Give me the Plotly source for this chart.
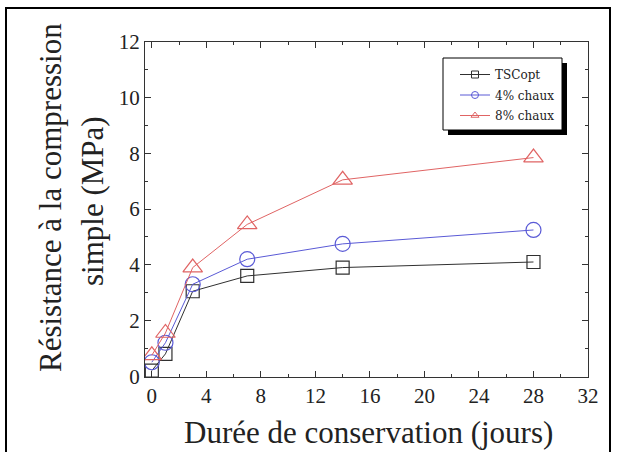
import plotly.graph_objects as go

# Curing time (days) and unconfined compressive strength (MPa)
days = [0, 1, 3, 7, 14, 28]
tscopt = [0.2, 0.8, 3.05, 3.6, 3.9, 4.1]
chaux4 = [0.5, 1.2, 3.3, 4.2, 4.75, 5.25]
chaux8 = [0.75, 1.55, 3.9, 5.45, 7.05, 7.85]

series_names = ["TSCopt", "4% chaux", "8% chaux"]
series_values = [tscopt, chaux4, chaux8]
colors = ["#303030", "#5a5ad6", "#e06464"]
symbols = ["square-open", "circle-open", "triangle-up-open"]
sizes = [13, 15, 17]

FONT = "Liberation Serif"

# plot-area pixel geometry (617 x 452 page)
L, R, T, B = 145, 29, 42, 75
PW, PH = 617 - L - R, 452 - T - B


def px(x):
    return (x - L) / PW


def py(y):
    return (452 - B - y) / PH


fig = go.Figure()
for i, (name, vals) in enumerate(zip(series_names, series_values)):
    fig.add_trace(go.Scatter(
        x=days, y=vals, name=name, mode="lines+markers",
        showlegend=False,
        line=dict(color=colors[i], width=1),
        marker=dict(symbol=symbols[i], size=sizes[i], color=colors[i],
                    line=dict(width=1.2, color=colors[i])),
    ))

# small-symbol legend keys
for i, name in enumerate(series_names):
    fig.add_trace(go.Scatter(
        x=[None], y=[None], name=name, mode="lines+markers",
        legendgroup=f"g{i}",
        line=dict(color=colors[i], width=1),
        marker=dict(symbol=symbols[i], size=7, color=colors[i],
                    line=dict(width=1, color=colors[i])),
    ))

axis_common = dict(
    showline=True, linecolor="#333", linewidth=1.2, mirror="allticks",
    ticks="inside", ticklen=6, tickcolor="#333", tickwidth=1,
    showgrid=False, zeroline=False,
    tickfont=dict(family=FONT, size=21, color="#222"),
)

fig.update_xaxes(range=[-0.5, 32], tickvals=[0, 4, 8, 12, 16, 20, 24, 28, 32],
                 minor=dict(tickvals=[2, 6, 10, 14, 18, 22, 26, 30], ticks="inside",
                            ticklen=3, tickcolor="#333"),
                 **axis_common)
fig.update_yaxes(range=[-0.03, 12], tickvals=[0, 2, 4, 6, 8, 10, 12],
                 minor=dict(tickvals=[1, 3, 5, 7, 9, 11], ticks="inside",
                            ticklen=3, tickcolor="#333"),
                 **axis_common)

# legend frame with drop shadow
fig.add_shape(type="rect", xref="paper", yref="paper", layer="above",
              x0=px(448), x1=px(567), y0=py(135), y1=py(63),
              fillcolor="black", line=dict(width=0))
fig.add_shape(type="rect", xref="paper", yref="paper", layer="above",
              x0=px(443), x1=px(562), y0=py(130), y1=py(58),
              fillcolor="white", line=dict(color="black", width=1))

# outer frame
fig.add_shape(type="rect", xref="paper", yref="paper", layer="above",
              x0=px(6), x1=px(610), y0=py(470), y1=py(8),
              fillcolor="rgba(0,0,0,0)", line=dict(color="black", width=2))

title_font = dict(family=FONT, size=31, color="#222")
fig.add_annotation(text="Résistance à la compression", xref="paper", yref="paper",
                   x=px(50), y=py(198), textangle=-90, showarrow=False,
                   xanchor="center", yanchor="middle", font=title_font)
fig.add_annotation(text="simple (MPa)", xref="paper", yref="paper",
                   x=px(92), y=py(201), textangle=-90, showarrow=False,
                   xanchor="center", yanchor="middle", font=title_font)
fig.add_annotation(text="Durée de conservation (jours)", xref="paper", yref="paper",
                   x=px(368), y=py(432), showarrow=False,
                   xanchor="center", yanchor="middle", font=title_font)

fig.update_layout(
    width=617, height=452,
    margin=dict(l=L, r=R, t=T, b=B),
    paper_bgcolor="white", plot_bgcolor="white",
    showlegend=True,
    legend=dict(x=px(455), y=py(60), xanchor="left", yanchor="top",
                bgcolor="rgba(0,0,0,0)", borderwidth=0,
                font=dict(family="DejaVu Serif", size=12, color="#222"),
                tracegroupgap=1.5),
)

fig.write_html("out.html")
